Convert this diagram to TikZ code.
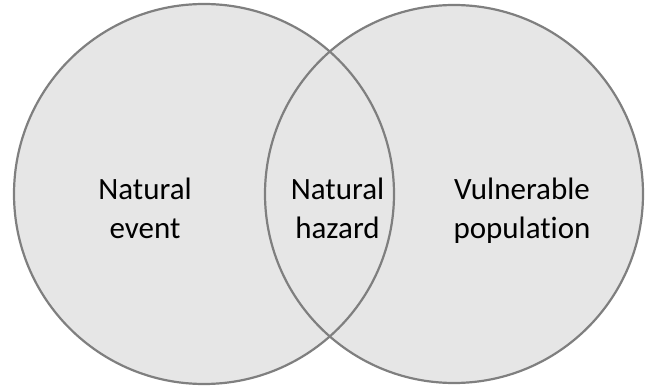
\documentclass[tikz,border=0pt]{standalone}
\usepackage{fontspec}
\setmainfont[Ligatures=NoCommon]{Carlito}
\begin{document}
\begin{tikzpicture}[x=1pt,y=-1pt,
  ring/.style={draw=ringgray,line width=2.2pt},
  label/.style={align=center,font=\fontsize{31}{39}\selectfont,text=black,inner sep=0pt,anchor=base}]
\definecolor{ringgray}{HTML}{7F7F7F}
\definecolor{fillgray}{HTML}{E6E6E6}
\useasboundingbox (0,0) rectangle (652,387);
\fill[fillgray] (204,194) circle (190);
\fill[fillgray] (454,194) circle (189);
\draw[ring] (204,194) circle (190);
\draw[ring] (454,194) circle (189);
\node[label] (ev) at (145,238) {Natural\\event};
\node[label] (hz) at (337.5,238) {Natural\\hazard};
\node[label] (vp) at (522,238) {Vulnerable\\population};
\end{tikzpicture}
\end{document}
